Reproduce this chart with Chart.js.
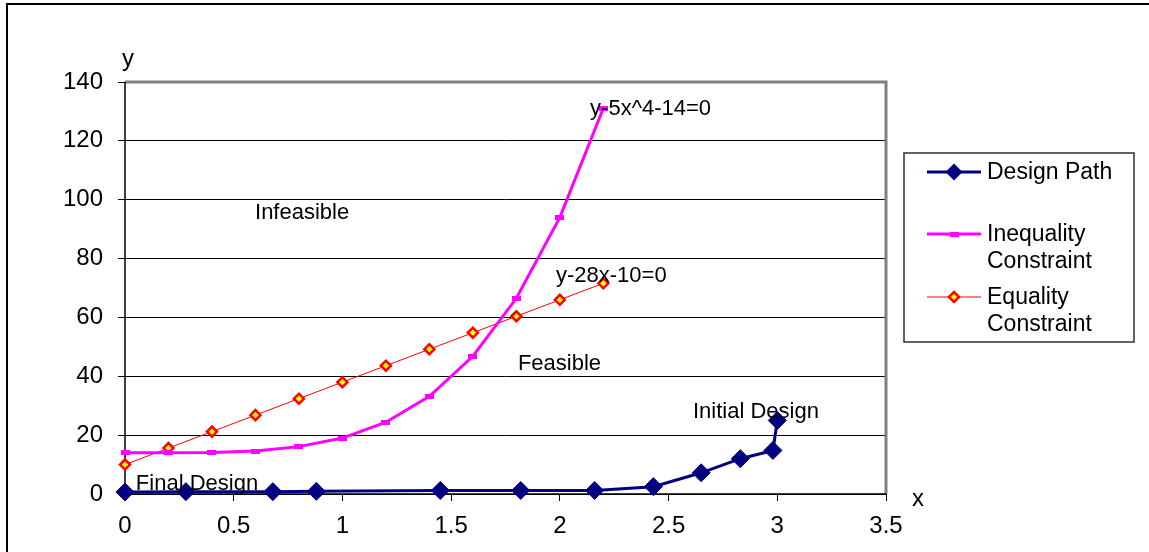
<!DOCTYPE html>
<html>
<head>
<meta charset="utf-8">
<title>Design Path</title>
<script src="https://cdn.jsdelivr.net/npm/chart.js@4/dist/chart.umd.min.js"></script>
<style>
  html, body { margin: 0; padding: 0; background: #fff; }
  #wrap { position: relative; width: 1149px; height: 552px; }
  canvas { display: block; }
</style>
</head>
<body>
<div id="wrap"><canvas id="c" width="1149" height="552"></canvas></div>
<script>
// Iterates of the optimizer, from the initial design down to the final design
const designX = [0, 0.28, 0.68, 0.88, 1.45, 1.82, 2.16, 2.43, 2.65, 2.83, 2.98, 3.0];
const designY = [0.7, 0.8, 0.8, 0.9, 1.2, 1.2, 1.2, 2.5, 7.2, 12, 14.8, 25];

// Constraint boundary curves sampled along x
const constraintX = [0, 0.2, 0.4, 0.6, 0.8, 1.0, 1.2, 1.4, 1.6, 1.8, 2.0, 2.2];
const inequalityY = [14, 14, 14.1, 14.6, 16.1, 19, 24.4, 33.2, 46.8, 66.5, 94, 131.1];
const equalityY = [10, 15.6, 21.2, 26.8, 32.4, 38, 43.6, 49.2, 54.8, 60.4, 66, 71.6];

const seriesNames = ['Design Path', 'Inequality Constraint', 'Equality Constraint'];

// Text notes placed in data units (left edge, vertical middle)
const notes = [
  { text: 'y-5x^4-14=0', x: 2.139, y: 131.5 },
  { text: 'y-28x-10=0', x: 1.982, y: 74.8 },
  { text: 'Infeasible', x: 0.598, y: 96.2 },
  { text: 'Feasible', x: 1.807, y: 44.9 },
  { text: 'Initial Design', x: 2.612, y: 28.5 },
  { text: 'Final Design', x: 0.05, y: 4.1 }
];

const FONT = '"Liberation Sans", Arial, sans-serif';
const NAVY = '#000080';
const MAGENTA = '#ff00ff';

function pts(xs, ys) { return xs.map((x, i) => ({ x: x, y: ys[i] })); }

// Small horizontal bar used as the inequality marker
const barMarker = document.createElement('canvas');
barMarker.width = 9; barMarker.height = 5;
(function () {
  const g = barMarker.getContext('2d');
  g.fillStyle = MAGENTA;
  g.fillRect(0, 0, 9, 5);
})();

const decor = {
  id: 'decor',
  beforeDraw(chart) {
    const ctx = chart.ctx;
    ctx.save();
    ctx.fillStyle = '#fff';
    ctx.fillRect(0, 0, chart.width, chart.height);
    // outer frame
    ctx.strokeStyle = '#000';
    ctx.lineWidth = 2;
    ctx.beginPath();
    ctx.moveTo(7, chart.height);
    ctx.lineTo(7, 4);
    ctx.lineTo(chart.width, 4);
    ctx.stroke();
    ctx.restore();
  },
  beforeDatasetsDraw(chart) {
    const ctx = chart.ctx;
    const a = chart.chartArea;
    ctx.save();
    // plot area top and right edges
    ctx.strokeStyle = '#808080';
    ctx.lineWidth = 3;
    ctx.beginPath();
    ctx.moveTo(a.left, a.top);
    ctx.lineTo(a.right, a.top);
    ctx.lineTo(a.right, a.bottom);
    ctx.stroke();
    // axes
    ctx.strokeStyle = '#000';
    ctx.lineWidth = 1.5;
    ctx.beginPath();
    ctx.moveTo(a.left, a.top);
    ctx.lineTo(a.left, a.bottom);
    ctx.lineTo(a.right, a.bottom);
    ctx.stroke();
    ctx.restore();
  },
  afterDatasetsDraw(chart) {
    const ctx = chart.ctx;
    const a = chart.chartArea;
    const xs = chart.scales.x, ys = chart.scales.y;
    ctx.save();
    ctx.fillStyle = '#000';
    ctx.font = '22px ' + FONT;
    ctx.textAlign = 'left';
    ctx.textBaseline = 'middle';
    notes.forEach(n => {
      ctx.fillText(n.text, xs.getPixelForValue(n.x), ys.getPixelForValue(n.y) + 2);
    });
    // axis titles
    ctx.font = '24px ' + FONT;
    ctx.fillText('y', a.left - 3, a.top - 23);
    ctx.fillText('x', a.right + 26, a.bottom + 5);

    // legend
    const lx = 904, ly = 153, lw = 230, lh = 189;
    ctx.strokeStyle = '#303030';
    ctx.lineWidth = 1.5;
    ctx.strokeRect(lx, ly, lw, lh);
    const ds = chart.data.datasets;
    const rows = [
      { y: 172, lines: ['Design Path'] },
      { y: 234, lines: ['Inequality', 'Constraint'] },
      { y: 297, lines: ['Equality', 'Constraint'] }
    ];
    ctx.font = '23px ' + FONT;
    rows.forEach((r, i) => {
      const d = ds[i];
      ctx.strokeStyle = d.borderColor;
      ctx.lineWidth = d.borderWidth;
      ctx.beginPath();
      ctx.moveTo(927, r.y);
      ctx.lineTo(981, r.y);
      ctx.stroke();
      const cx = 954;
      if (i === 0) {
        const s = 8.5;
        ctx.fillStyle = NAVY;
        ctx.beginPath();
        ctx.moveTo(cx, r.y - s); ctx.lineTo(cx + s, r.y); ctx.lineTo(cx, r.y + s); ctx.lineTo(cx - s, r.y);
        ctx.closePath();
        ctx.fill();
      } else if (i === 1) {
        ctx.drawImage(barMarker, cx - 4.5, r.y - 2.5);
      } else {
        const s = 5;
        ctx.fillStyle = '#ffff00';
        ctx.strokeStyle = '#ff0000';
        ctx.lineWidth = 2.5;
        ctx.beginPath();
        ctx.moveTo(cx, r.y - s); ctx.lineTo(cx + s, r.y); ctx.lineTo(cx, r.y + s); ctx.lineTo(cx - s, r.y);
        ctx.closePath();
        ctx.fill();
        ctx.stroke();
      }
      ctx.fillStyle = '#000';
      r.lines.forEach((t, k) => ctx.fillText(t, 987, r.y + 1 + k * 27));
    });
    ctx.restore();
  }
};

new Chart(document.getElementById('c'), {
  type: 'scatter',
  data: {
    datasets: [
      {
        label: seriesNames[0],
        data: pts(designX, designY),
        showLine: true,
        borderColor: NAVY,
        backgroundColor: NAVY,
        borderWidth: 3,
        pointStyle: 'rectRot',
        pointRadius: 9,
        pointBorderWidth: 1,
        pointHoverRadius: 9,
        clip: false
      },
      {
        label: seriesNames[1],
        data: pts(constraintX, inequalityY),
        showLine: true,
        borderColor: MAGENTA,
        backgroundColor: MAGENTA,
        borderWidth: 3,
        pointStyle: barMarker,
        clip: false
      },
      {
        label: seriesNames[2],
        data: pts(constraintX, equalityY),
        showLine: true,
        borderColor: '#ff0000',
        backgroundColor: '#ffff00',
        borderWidth: 1,
        pointStyle: 'rectRot',
        pointRadius: 5,
        pointBorderWidth: 2.5,
        pointBorderColor: '#ff0000',
        pointBackgroundColor: '#ffff00',
        clip: false
      }
    ]
  },
  options: {
    responsive: false,
    animation: false,
    events: [],
    layout: { autoPadding: false, padding: { top: 82, right: 263, left: 0, bottom: 0 } },
    plugins: {
      legend: { display: false },
      tooltip: { enabled: false }
    },
    scales: {
      x: {
        type: 'linear',
        min: 0, max: 3.5,
        afterFit(s) { s.height = 58; },
        border: { display: false },
        grid: { drawOnChartArea: false, drawTicks: true, tickLength: 7, color: '#000', lineWidth: 1 },
        ticks: {
          stepSize: 0.5, color: '#000', font: { family: FONT, size: 24 }, padding: 11,
          maxRotation: 0, autoSkip: false,
          callback: v => String(Math.round(v * 10) / 10)
        }
      },
      y: {
        min: 0, max: 140,
        afterFit(s) { s.width = 125; },
        border: { display: false },
        grid: { drawOnChartArea: true, drawTicks: true, tickLength: 7, color: '#000', lineWidth: 1 },
        ticks: { stepSize: 20, color: '#000', font: { family: FONT, size: 24 }, padding: 15 }
      }
    }
  },
  plugins: [decor]
});
</script>
</body>
</html>
